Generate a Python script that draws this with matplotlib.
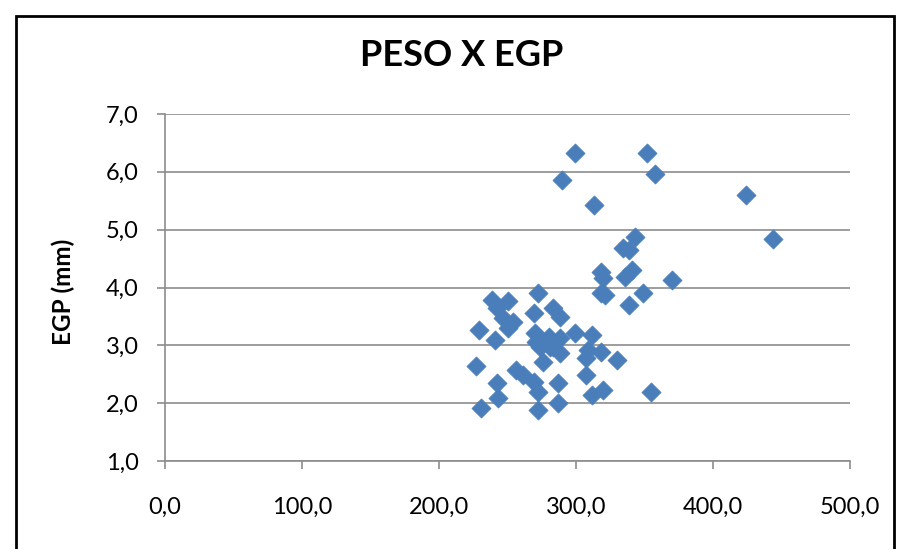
import matplotlib
matplotlib.use("Agg")
import matplotlib.pyplot as plt
from matplotlib.patches import Rectangle

# PESO (x) and EGP in mm (y) per animal
peso = [299, 352, 290, 358, 313, 424, 444, 343, 334, 339,
        318, 320, 341, 336, 370, 318, 321, 349, 339,
        239, 250, 242, 247, 254, 250, 229, 241,
        272, 269, 283, 288, 270, 280, 274, 288, 299, 312,
        309, 318, 330, 276, 283, 307, 307, 281, 288, 271,
        287, 320, 312, 355, 227, 256, 261, 269, 272, 287,
        242, 243, 231, 272]
egp = [6.33, 6.33, 5.86, 5.96, 5.43, 5.60, 4.84, 4.87, 4.68, 4.65,
       4.27, 4.16, 4.30, 4.18, 4.13, 3.91, 3.87, 3.91, 3.70,
       3.78, 3.77, 3.65, 3.47, 3.40, 3.30, 3.27, 3.09,
       3.90, 3.56, 3.65, 3.49, 3.21, 3.14, 2.97, 3.13, 3.21, 3.18,
       2.92, 2.88, 2.75, 2.71, 2.97, 2.78, 2.49, 2.97, 2.87, 3.05,
       2.00, 2.23, 2.14, 2.19, 2.64, 2.57, 2.49, 2.37, 2.19, 2.35,
       2.35, 2.09, 1.92, 1.88]

x_ticks = [0, 100, 200, 300, 400, 500]
y_ticks = [1, 2, 3, 4, 5, 6, 7]

plt.rcParams["font.family"] = ["Lato", "DejaVu Sans"]

fig = plt.figure(figsize=(9.02, 5.49), dpi=100)
W, H = 902, 549
ax = fig.add_axes([165 / W, 1 - 461 / H, (850 - 165) / W, (461 - 114) / H])

# outer chart frame
fig.patches.append(Rectangle((16 / W, -0.05), (894 - 16) / W, 1.05 - 16 / H,
                             transform=fig.transFigure, fill=False,
                             edgecolor="black", linewidth=2))

ax.scatter(peso, egp, marker="D", s=95, color="#4a7ebb",
           edgecolors="#4a7ebb", linewidths=0.5, zorder=3)

ax.set_xlim(0, 500)
ax.set_ylim(1, 7)
ax.set_xticks(x_ticks)
ax.set_yticks(y_ticks)
ax.set_xticklabels([f"{v:.1f}".replace(".", ",") for v in x_ticks])
ax.set_yticklabels([f"{v:.1f}".replace(".", ",") for v in y_ticks])
ax.grid(axis="y", color="#8c8c8c", linewidth=1.2)
ax.set_axisbelow(True)
for side in ("top", "right"):
    ax.spines[side].set_visible(False)
for side in ("left", "bottom"):
    ax.spines[side].set_color("#8c8c8c")
    ax.spines[side].set_linewidth(1.2)
ax.tick_params(axis="both", colors="#8c8c8c", length=6, width=1.2,
               labelsize=17, labelcolor="black")
ax.tick_params(axis="x", pad=20)
ax.tick_params(axis="y", pad=13)

ax.set_ylabel("EGP (mm)", fontsize=17.5, fontweight="bold")
ax.yaxis.set_label_coords(63 / W, 1 - 292 / H, transform=fig.transFigure)
ax.yaxis.label.set_verticalalignment("center")
fig.text(462 / W, 1 - 56 / H, "PESO X EGP", ha="center", va="center",
         fontsize=26, fontweight="bold")

fig.savefig("out.png", dpi=100)
